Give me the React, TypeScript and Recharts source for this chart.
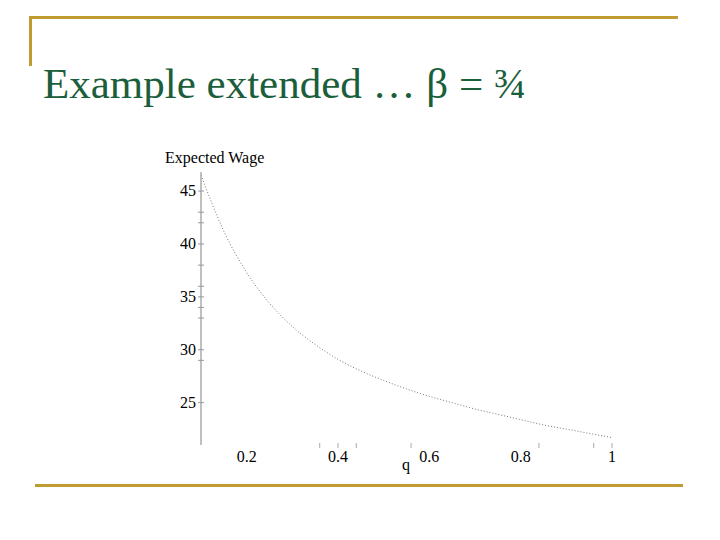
import { LineChart, Line, XAxis, YAxis } from 'recharts';

// q values and expected wage (beta = 3/4)
const qValues = [0.1, 0.15, 0.2, 0.25, 0.3, 0.35, 0.4, 0.45, 0.5, 0.55, 0.6, 0.65, 0.7, 0.75, 0.8, 0.85, 0.9, 0.95, 1.0];
const wageValues = [46.5, 41.2, 37.3, 34.4, 32.2, 30.5, 29.1, 28.0, 27.1, 26.3, 25.6, 25.0, 24.4, 23.9, 23.4, 22.9, 22.5, 22.1, 21.7];

// labelled ticks and the (irregular) tick marks visible in the Maple plot
const xLabels = [0.2, 0.4, 0.6, 0.8, 1];
const xMarks = [0.36, 0.4, 0.44, 0.56, 0.84, 0.96, 1];
const yLabels = [25, 30, 35, 40, 45];
const yMarks = [29, 30, 33, 34, 36, 38, 40, 42, 43, 45];

const data = qValues.map((q, i) => ({ q, wage: wageValues[i] }));
const xTicks = Array.from(new Set([...xLabels, ...xMarks])).sort((a, b) => a - b);
const yTicks = Array.from(new Set([...yLabels, ...yMarks])).sort((a, b) => a - b);

const gold = '#BF9B30';
const serif = '"Liberation Serif", "DejaVu Serif", serif';

const XTick = (props: any) => {
  const { x, y, payload } = props;
  const v = payload.value;
  return (
    <g>
      {xMarks.includes(v) && <line x1={x} x2={x} y1={y - 2} y2={y + 3} stroke="#aaa" />}
      {xLabels.includes(v) && (
        <text x={x} y={y + 17} textAnchor="middle" fontSize={16} fontFamily={serif} fill="#000">
          {String(v)}
        </text>
      )}
    </g>
  );
};

const YTick = (props: any) => {
  const { x, y, payload } = props;
  const v = payload.value;
  const major = yLabels.includes(v);
  return (
    <g>
      <line x1={x - 3} x2={x + 3} y1={y} y2={y} stroke="#999" />
      {major && (
        <text x={x - 5} y={y + 5} textAnchor="end" fontSize={16} fontFamily={serif} fill="#000">
          {v}
        </text>
      )}
    </g>
  );
};

export default function App() {
  return (
    <div style={{ position: 'absolute', left: 0, top: 0, width: 720, height: 540, background: '#fff', overflow: 'hidden' }}>
      <div style={{ position: 'absolute', left: 30, top: 16, width: 648, height: 3, background: gold }} />
      <div style={{ position: 'absolute', left: 29, top: 16, width: 3, height: 50, background: gold }} />
      <div style={{ position: 'absolute', left: 35, top: 484, width: 648, height: 3, background: gold }} />
      <div
        style={{
          position: 'absolute',
          left: 43,
          top: 62,
          fontFamily: serif,
          fontSize: 43,
          lineHeight: '43px',
          color: '#1B5E3C',
          whiteSpace: 'nowrap',
        }}
      >
        Example extended … β = ¾
      </div>
      <div style={{ position: 'absolute', left: 165, top: 149, fontFamily: serif, fontSize: 16, color: '#000' }}>
        Expected Wage
      </div>
      <div style={{ position: 'absolute', left: 402, top: 456, fontFamily: serif, fontSize: 16, color: '#000' }}>q</div>
      <div style={{ position: 'absolute', left: 0, top: 0 }}>
        <LineChart width={720} height={540} data={data} margin={{ top: 172, right: 108, bottom: 65, left: 161 }}>
          <XAxis
            dataKey="q"
            type="number"
            domain={[0.1, 1]}
            ticks={xTicks}
            interval={0}
            allowDataOverflow
            axisLine={false}
            tickLine={false}
            tickSize={0}
            tickMargin={0}
            height={30}
            tick={<XTick />}
          />
          <YAxis
            type="number"
            domain={[21, 46.8]}
            ticks={yTicks}
            interval={0}
            allowDataOverflow
            width={40}
            axisLine={{ stroke: '#808080' }}
            tickLine={false}
            tickSize={0}
            tickMargin={0}
            tick={<YTick />}
          />
          <Line
            type="monotone"
            dataKey="wage"
            stroke="#777"
            strokeWidth={1}
            strokeDasharray="1 2"
            dot={false}
            isAnimationActive={false}
          />
        </LineChart>
      </div>
    </div>
  );
}
